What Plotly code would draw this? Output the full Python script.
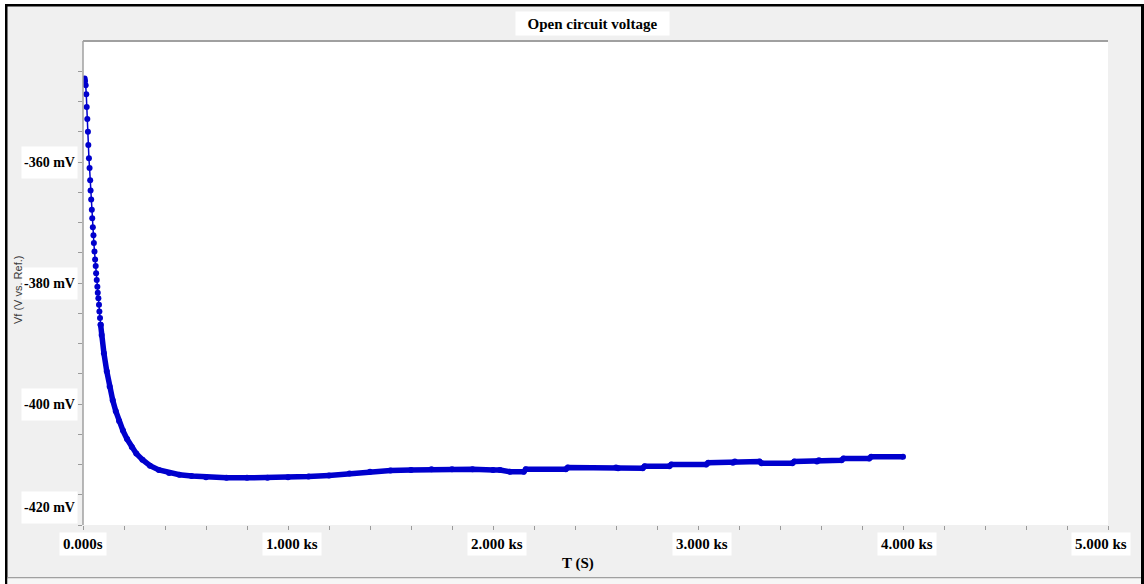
import plotly.graph_objects as go

# Open circuit voltage record: time (s) and potential (mV vs. Ref.)
# Early, sparsely resolved samples drawn as separate dots
time_early = [8, 10, 13, 16, 18, 21, 24, 26, 29, 32, 35, 37, 40, 43, 45, 48,
              51, 53, 56, 59, 62, 64, 67, 70, 72, 75, 78, 80, 83, 86]
volt_early = [-346.2, -346.6, -347.3, -348.8, -350.9, -352.9, -355.0, -357.2,
              -359.4, -361.0, -363.0, -364.7, -366.2, -367.9, -369.3, -370.8,
              -372.1, -373.4, -374.8, -376.1, -377.2, -378.4, -379.5, -380.6,
              -381.6, -382.5, -383.6, -384.7, -385.8, -386.9]

# Later samples, dense enough that the dots merge into a band
time_late = [86, 91, 102, 116, 130, 145, 160, 176, 195, 215, 238, 260, 290,
             327, 370, 420, 470, 530, 600, 700, 800, 900, 1000, 1100,
             1200, 1300, 1400, 1500, 1600, 1700, 1800, 1900, 2000, 2034,
             2083, 2150, 2160, 2355, 2365, 2600, 2610, 2730, 2740, 2860,
             2870, 3040, 3050, 3170, 3180, 3300, 3310, 3460, 3470, 3580,
             3590, 3700, 3710, 3835, 3845, 4000]
volt_late = [-386.9, -388.6, -391.6, -394.6, -397.1, -399.4, -401.2, -402.8,
             -404.4, -405.8, -407.1, -408.2, -409.2, -410.2, -410.9, -411.4,
             -411.7, -411.9, -412.1, -412.2, -412.2, -412.2, -412.1, -412.0,
             -411.8, -411.5, -411.2, -411.0, -410.9, -410.8, -410.8, -410.8,
             -410.9, -410.9, -411.2, -411.2, -410.8, -410.8, -410.5,
             -410.5, -410.6, -410.6, -410.3, -410.3, -410.0, -410.0, -409.7,
             -409.7, -409.5, -409.5, -409.8, -409.8, -409.5, -409.5, -409.3,
             -409.3, -409.0, -409.0, -408.7, -408.7]

x_tick_values = [0, 1000, 2000, 3000, 4000, 5000]
x_tick_labels = ["0.000s", "1.000 ks", "2.000 ks", "3.000 ks", "4.000 ks", "5.000 ks"]
y_tick_values = [-360, -380, -400, -420]
y_tick_labels = ["-360 mV", "-380 mV", "-400 mV", "-420 mV"]

TITLE = "Open circuit voltage"
X_TITLE = "T (S)"
Y_TITLE = "Vf (V vs. Ref.)"

# Canvas geometry (pixels)
W, H = 1144, 584
PL, PR, PT, PB = 83, 1108, 41, 525


def px(xp):
    return (xp - PL) / (PR - PL)


def py(yp):
    return (PB - yp) / (PB - PT)


BLUE = "#0000CD"
SERIF = "Liberation Serif, Times New Roman, serif"

fig = go.Figure()
fig.add_trace(go.Scatter(
    x=time_late, y=volt_late, mode="lines+markers",
    line=dict(color=BLUE, width=5.5),
    marker=dict(color=BLUE, size=6),
    hoverinfo="skip", showlegend=False,
))
fig.add_trace(go.Scatter(
    x=time_early, y=volt_early, mode="lines+markers",
    line=dict(color=BLUE, width=1.5),
    marker=dict(color=BLUE, size=6),
    hoverinfo="skip", showlegend=False,
))

annotations = []
# Title in a white box
annotations.append(dict(
    text=f"<b>{TITLE}</b>", xref="paper", yref="paper",
    x=px(592), y=py(23), xanchor="center", yanchor="middle",
    showarrow=False, bgcolor="white", width=153, height=23, borderpad=0,
    font=dict(family=SERIF, size=15, color="black"),
))
# Y tick labels in white boxes
for v, lab in zip(y_tick_values, y_tick_labels):
    annotations.append(dict(
        text=f"<b>{lab}</b>", xref="paper", yref="y",
        x=px(78), y=v, xanchor="right", yanchor="middle",
        yshift=18 if v == min(y_tick_values) else 0,
        showarrow=False, bgcolor="white", borderpad=2, height=27,
        font=dict(family=SERIF, size=14, color="black"),
    ))
# X tick labels in white boxes
for i, (v, lab) in enumerate(zip(x_tick_values, x_tick_labels)):
    shift = 0 if i == 0 else (-7 if i == len(x_tick_values) - 1 else 4)
    annotations.append(dict(
        text=f"<b>{lab}</b>", xref="x", yref="paper",
        x=v, y=py(544), xanchor="center", yanchor="middle", xshift=shift,
        showarrow=False, bgcolor="white", borderpad=3,
        font=dict(family=SERIF, size=15, color="black"),
    ))
# Axis titles
annotations.append(dict(
    text=f"<b>{X_TITLE}</b>", xref="paper", yref="paper",
    x=px(578), y=py(563), xanchor="center", yanchor="middle",
    showarrow=False, font=dict(family=SERIF, size=15, color="black"),
))
annotations.append(dict(
    text=Y_TITLE, xref="paper", yref="paper", textangle=-90,
    x=px(18), y=py(290), xanchor="center", yanchor="middle",
    showarrow=False,
    font=dict(family="Liberation Sans, Arial, sans-serif", size=11, color="#3a3a3a"),
))


def rect(x0, y0, x1, y1, color):
    return dict(type="rect", xref="paper", yref="paper",
                x0=px(x0), x1=px(x1), y0=py(y0), y1=py(y1),
                fillcolor=color, line=dict(width=0), layer="above")


shapes = [
    # frame of the plotting area (top and left edges)
    dict(type="line", xref="paper", yref="paper", x0=0, x1=1, y0=1, y1=1,
         line=dict(color="#a0a0a0", width=2)),
    dict(type="line", xref="paper", yref="paper", x0=0, x1=0, y0=0, y1=1,
         line=dict(color="#a0a0a0", width=1.5)),
    # window edges
    rect(0, 0, 5, H, "white"),
    rect(0, 0, W, 4, "white"),
    rect(5, 4, 7.5, H, "black"),
    rect(5, 4, W, 6.5, "black"),
    rect(1141, 4, W, H, "black"),
    rect(7.5, 577, 1141, 578.5, "#a0a0a0"),
    rect(7.5, 578.5, 1141, H, "#f6f6f6"),
]

fig.update_layout(
    width=W, height=H,
    margin=dict(l=PL, r=W - PR, t=PT, b=H - PB, pad=0),
    paper_bgcolor="#f0f0f0", plot_bgcolor="white",
    xaxis=dict(range=[0, 5000], tickvals=list(range(0, 5001, 200)),
               ticks="outside", ticklen=4, tickcolor="#9a9a9a", tickwidth=1,
               showticklabels=False, showgrid=False, zeroline=False,
               showline=False, fixedrange=True),
    yaxis=dict(range=[-420, -340], tickvals=list(range(-420, -344, 5)),
               ticks="outside", ticklen=4, tickcolor="#9a9a9a", tickwidth=1,
               showticklabels=False, showgrid=False, zeroline=False,
               showline=False, fixedrange=True),
    annotations=annotations,
    shapes=shapes,
)

fig.write_html("out.html")
